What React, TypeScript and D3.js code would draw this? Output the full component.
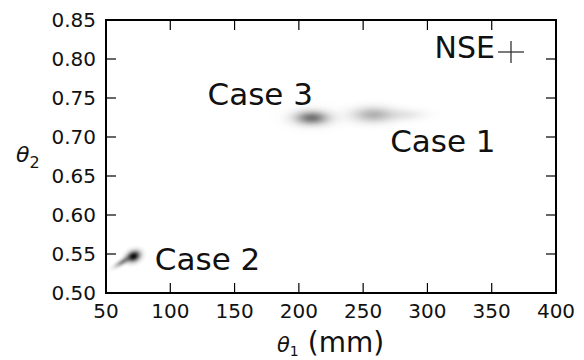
import React from "react";
import * as d3 from "d3";

// ---- data ----
const xTicks = [50, 100, 150, 200, 250, 300, 350, 400];
const yTicks = [0.5, 0.55, 0.6, 0.65, 0.7, 0.75, 0.8, 0.85];

// posterior sample clouds (centre, spread in data units, density, tilt)
const cloudCase = ["Case 3", "Case 3 halo", "Case 1", "Case 1 tail", "Case 2", "Case 2 tail"];
const cloudTheta1 = [210.0, 211.0, 258.0, 284.0, 71.5, 63.5];
const cloudTheta2 = [0.7245, 0.7245, 0.7285, 0.7285, 0.547, 0.5405];
const cloudSd1 = [8.0, 13.0, 11.0, 10.0, 3.6, 5.0];
const cloudSd2 = [0.0055, 0.008, 0.0068, 0.005, 0.0045, 0.0025];
const cloudDensity = [0.5, 0.1, 0.3, 0.09, 0.95, 0.45];
const cloudTilt = [0, 0, 0, 0, -25, -32];

const labelText = ["Case 3", "Case 1", "Case 2"];
const labelTheta1 = [129.0, 271.0, 88.0];
const labelTheta2 = [0.741, 0.681, 0.5295];

const legendLabel = "NSE";

const W = 584;
const H = 360;
const FONT = "'DejaVu Sans', sans-serif";

export default function App() {
  const x = d3.scaleLinear().domain([50, 400]).range([106, 556]);
  const y = d3.scaleLinear().domain([0.5, 0.85]).range([293, 20]);
  const [x0, x1] = x.range();
  const [y0, y1] = y.range();
  const tickLen = 10;

  const gradStops = d3.range(0, 1.0001, 0.1);

  return (
    <svg
      width={W}
      height={H}
      style={{ position: "absolute", left: 0, top: 0, background: "#fff" }}
      fontFamily={FONT}
    >
      <defs>
        {cloudCase.map((c, i) => (
          <radialGradient id={`g${i}`} key={c} cx="50%" cy="50%" r="50%">
            {gradStops.map((t) => (
              <stop
                key={t}
                offset={`${t * 100}%`}
                stopColor="#000"
                stopOpacity={cloudDensity[i] * Math.exp(-((t * 3) ** 2) / 2)}
              />
            ))}
          </radialGradient>
        ))}
      </defs>
      <rect x={0} y={0} width={W} height={H} fill="#fff" />

      {/* clouds */}
      {cloudCase.map((c, i) => {
        const cx = x(cloudTheta1[i]);
        const cy = y(cloudTheta2[i]);
        const rx = Math.abs(x(cloudTheta1[i] + cloudSd1[i]) - cx) * 3;
        const ry = Math.abs(y(cloudTheta2[i] + cloudSd2[i]) - cy) * 3;
        return (
          <ellipse
            key={c}
            cx={cx}
            cy={cy}
            rx={rx}
            ry={ry}
            fill={`url(#g${i})`}
            transform={`rotate(${cloudTilt[i]} ${cx} ${cy})`}
          />
        );
      })}

      {/* case labels */}
      {labelText.map((t, i) => (
        <text key={t} x={x(labelTheta1[i])} y={y(labelTheta2[i])} fontSize={31} fill="#111">
          {t}
        </text>
      ))}

      {/* legend */}
      <text x={495} y={58} fontSize={30} textAnchor="end" fill="#111">
        {legendLabel}
      </text>
      <g stroke="#333" strokeWidth={1.3}>
        <line x1={498} x2={524} y1={52} y2={52} />
        <line x1={511} x2={511} y1={41} y2={63} />
      </g>

      {/* ticks on all sides, inward */}
      <g stroke="#000" strokeWidth={1.2}>
        {xTicks.map((t) => (
          <g key={`xt${t}`}>
            <line x1={x(t)} x2={x(t)} y1={y0} y2={y0 - tickLen} />
            <line x1={x(t)} x2={x(t)} y1={y1} y2={y1 + tickLen} />
          </g>
        ))}
        {yTicks.map((t) => (
          <g key={`yt${t}`}>
            <line x1={x0} x2={x0 + tickLen} y1={y(t)} y2={y(t)} />
            <line x1={x1} x2={x1 - tickLen} y1={y(t)} y2={y(t)} />
          </g>
        ))}
      </g>

      {/* frame */}
      <rect x={x0} y={y1} width={x1 - x0} height={y0 - y1} fill="none" stroke="#000" strokeWidth={2} />

      {/* tick labels */}
      {xTicks.map((t) => (
        <text key={`xl${t}`} x={x(t)} y={318} fontSize={20} textAnchor="middle" fill="#111">
          {d3.format("d")(t)}
        </text>
      ))}
      {yTicks.map((t) => (
        <text
          key={`yl${t}`}
          x={96}
          y={y(t) + 7}
          fontSize={20}
          textAnchor="end"
          fill="#111"
        >
          {d3.format(".2f")(t)}
        </text>
      ))}

      {/* axis labels */}
      <text x={277} y={352} fill="#111">
        <tspan fontSize={21} fontStyle="italic">θ</tspan>
        <tspan fontSize={14} dy={4}>1</tspan>
        <tspan fontSize={28} dy={-4} dx={9}>(mm)</tspan>
      </text>
      <text x={16} y={162} fill="#111">
        <tspan fontSize={22} fontStyle="italic">θ</tspan>
        <tspan fontSize={16} dy={6}>2</tspan>
      </text>
    </svg>
  );
}
